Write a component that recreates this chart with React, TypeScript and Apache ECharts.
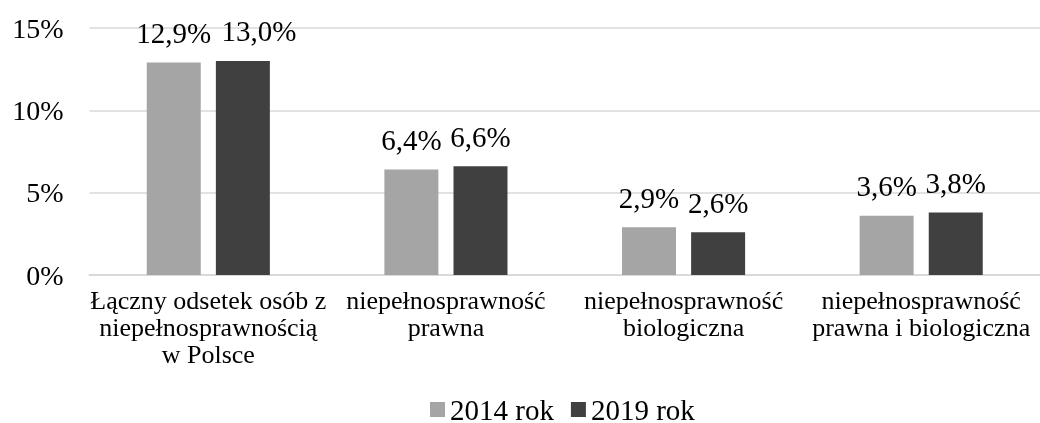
import React, { useEffect, useRef } from "react";
import * as echarts from "echarts";

const categories = [
  "Łączny odsetek osób z\nniepełnosprawnością\nw Polsce",
  "niepełnosprawność\nprawna",
  "niepełnosprawność\nbiologiczna",
  "niepełnosprawność\nprawna i biologiczna",
];
const series2014 = [12.9, 6.4, 2.9, 3.6];
const series2019 = [13.0, 6.6, 2.6, 3.8];
const seriesNames = ["2014 rok", "2019 rok"];
const yTicks = { min: 0, max: 15, interval: 5 };

const FONT = "Liberation Serif";

export default function App() {
  const ref = useRef<HTMLDivElement>(null);
  useEffect(() => {
    if (!ref.current) return;
    const chart = echarts.init(ref.current, null, { renderer: "svg" });
    const fmt = (p: any) => p.value.toFixed(1).replace(".", ",") + "%";
    const labelStyle = {
      show: true,
      position: "top",
      distance: 15,
      color: "#000",
      fontFamily: FONT,
      fontSize: 29,
      lineHeight: 29,
      formatter: fmt,
    };
    // Excel nudged the first 2019 label right to avoid overlap
    const data2019 = series2019.map((v, i) =>
      i === 0 ? { value: v, label: { offset: [16, 0] } } : v
    );
    chart.setOption({
      animation: false,
      textStyle: { fontFamily: FONT },
      grid: { left: 89.5, top: 28, width: 964, height: 247, containLabel: false },
      legend: {
        top: 390,
        left: 425,
        itemWidth: 15,
        itemHeight: 15,
        itemGap: 17,
        icon: "rect",
        textStyle: {
          fontFamily: FONT,
          fontSize: 29,
          lineHeight: 28,
          color: "#000",
          padding: [0, 0, 0, 0],
        },
        data: seriesNames,
      },
      xAxis: {
        type: "category",
        data: categories,
        axisLine: { lineStyle: { color: "#d9d9d9", width: 2 } },
        axisTick: { show: false },
        axisLabel: {
          interval: 0,
          color: "#000",
          fontFamily: FONT,
          fontSize: 26,
          lineHeight: 27,
          margin: 12,
        },
      },
      yAxis: {
        type: "value",
        min: yTicks.min,
        max: yTicks.max,
        interval: yTicks.interval,
        axisLine: { show: false },
        axisTick: { show: false },
        splitLine: { lineStyle: { color: "#d9d9d9", width: 1.5 } },
        axisLabel: {
          color: "#000",
          fontFamily: FONT,
          fontSize: 28,
          margin: 26,
          formatter: (v: number) => v + "%",
        },
      },
      series: [
        {
          name: seriesNames[0],
          type: "bar",
          data: series2014,
          barWidth: 54,
          barGap: "28%",
          itemStyle: { color: "#a5a5a5" },
          label: labelStyle,
        },
        {
          name: seriesNames[1],
          type: "bar",
          data: data2019,
          barWidth: 54,
          itemStyle: { color: "#404040" },
          label: labelStyle,
        },
      ],
    });
    return () => chart.dispose();
  }, []);
  return (
    <div
      ref={ref}
      style={{ position: "fixed", left: 0, top: 0, width: 1040, height: 423 }}
    />
  );
}
